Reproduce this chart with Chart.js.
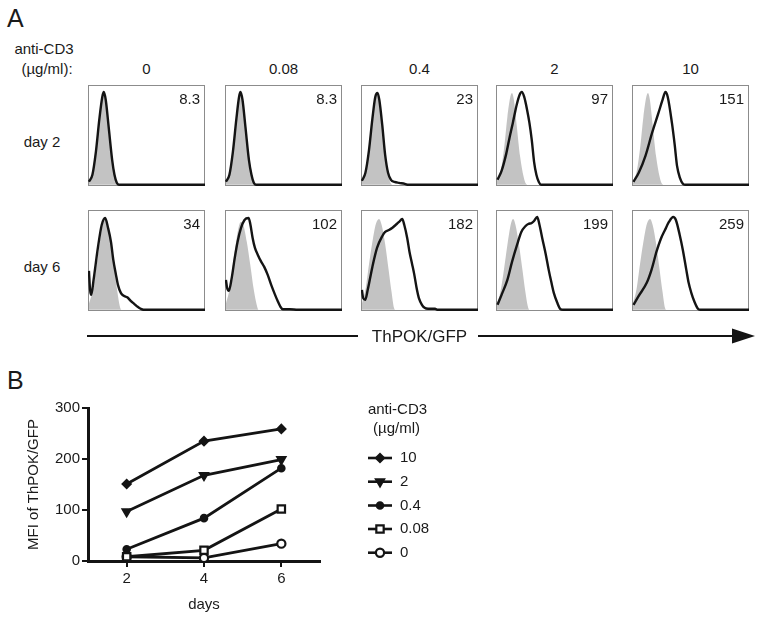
<!DOCTYPE html>
<html><head><meta charset="utf-8">
<script src="https://cdn.jsdelivr.net/npm/chart.js@4.4.1/dist/chart.umd.min.js"></script>
<style>
html,body{margin:0;padding:0;background:#fff;}
body{width:761px;height:619px;position:relative;overflow:hidden;font-family:"Liberation Sans",Arial,Helvetica,sans-serif;color:#1a1a1a;}
.t{position:absolute;white-space:nowrap;line-height:1;font-size:15px;}
.panel{position:absolute;width:117px;height:101px;box-sizing:border-box;border:1px solid #8c8c8c;}
.panel canvas{position:absolute;left:-1px;top:-1px;}
</style>
</head><body>
<script>
// ---------- DATA ----------
const concentrations = ['0', '0.08', '0.4', '2', '10'];
const dayLabels = ['day 2', 'day 6'];
const mfiDay2Labels = ['8.3', '8.3', '23', '97', '151'];
const mfiDay6Labels = ['34', '102', '182', '199', '259'];

// Histogram curves: [x % of axis, y % of panel height]
const grayDay2 = [[0,4],[3,12],[6,35],[9,68],[11.5,88],[13,92],[14.5,86],[17,60],[20,28],[23,8],[25,1],[27,0],[100,0]];
const grayDay6 = [[0,6],[3,18],[6,40],[9,65],[12,86],[14,91],[16,85],[19,65],[22,40],[24.5,18],[26.5,4],[28,0],[100,0]];
const grayDay6b = [[0,6],[3,20],[6,45],[9,70],[11,83],[12.7,88],[15,85],[18,68],[21,45],[24,20],[26.5,5],[28,0],[100,0]];
const grayDay6c = [[0,6],[3,20],[6,45],[9,68],[12,86],[14.8,91],[17,85],[20,66],[23,40],[25.5,18],[27.6,2],[29,0],[100,0]];

const d2c0 = [[0,3],[3,10],[6,33],[9,66],[11.5,88],[12.8,93],[14.5,85],[17,58],[20,25],[22,10],[24,2],[26,0],[100,0]];
const d2c008 = [[0,3],[3,10],[6,33],[9,66],[11.3,88],[12.5,93],[14.3,85],[16.8,58],[19.8,25],[22,10],[24,2],[26,0],[100,0]];
const d2c04 = [[0,4],[3,12],[6,34],[9,66],[11.5,88],[13.4,92],[15,85],[17.5,60],[20,30],[22.5,12],[25,5],[28,3],[32,2],[37,1],[40,0],[100,0]];
const d2c2 = [[0.5,5],[4,14],[8,31],[11,48],[13.7,62],[17,80],[19.5,90],[21.4,93],[23.5,88],[26,75],[28,62],[30,45],[32,23],[34,10],[36,3],[38,0],[100,0]];
const d2c10 = [[0.5,3],[5,12],[10.8,29],[16.5,52],[22,72],[25.5,85],[28,93],[30,88],[33.6,62],[36,40],[38,19],[40.5,7],[43,1],[45,0],[100,0]];

const d6c0 = [[0,39],[1,20],[2,15],[4,30],[7.7,62],[11,85],[14,92],[16.5,82],[19,68],[21,50],[23.3,35],[25,25],[27.5,17],[30,14],[33,12.5],[36,9],[39,6],[42,3],[44.6,1],[47,0],[100,0]];
const d6c008 = [[0,30],[1,22],[2.5,19],[5,32],[7.6,52],[10,68],[13,82],[16,90],[19.5,92],[21,86],[23,72],[25,62],[27.5,55],[30,49],[33,43],[36,35],[39,25],[42,16],[44.5,9],[47,3],[49,0.5],[55,0.5],[62,0],[100,0]];
const d6c04 = [[0,20],[1,12],[2.8,10],[5,20],[9,43],[13,62],[17.6,74],[20,78],[23.3,80],[26,82],[29,85],[32,88],[34.7,91],[36.5,85],[39,72],[41,58],[43.2,46],[45,36],[47.4,20],[49,12],[51.7,5],[54,2],[57,1],[63,1],[65,0],[100,0]];
const d6c2 = [[0.5,5],[4,15],[9,30],[13,48],[17.6,66],[21,78],[24.7,84],[27,86],[30,87],[32,89],[34.7,93],[36.5,86],[39,72],[42,56],[44.6,40],[47,27],[49,17],[52,7],[54.5,1],[57,0],[100,0]];
const d6c10 = [[0.5,5],[5,14],[11.9,27],[16,40],[20.5,59],[24,71],[27.6,80],[31,88],[34.7,93],[37,90],[40.3,75],[43,60],[46,40],[48,27],[50.3,17],[53,8],[56,1],[58,0],[100,0]];

const histRows = [
  {gray: [grayDay2, grayDay2, grayDay2, grayDay2, grayDay2], black: [d2c0, d2c008, d2c04, d2c2, d2c10]},
  {gray: [grayDay6, grayDay6b, grayDay6c, grayDay6, grayDay6c], black: [d6c0, d6c008, d6c04, d6c2, d6c10]}
];

// Panel B
const days = [2, 4, 6];
const xTickValues = [2, 4, 6];
const seriesLabels = ['10', '2', '0.4', '0.08', '0'];
const mfi10 = [151, 235, 259];
const mfi2 = [97, 168, 199];
const mfi04 = [23, 84, 182];
const mfi008 = [8.3, 21, 102];
const mfi0 = [8.3, 6, 34];

// ---------- LAYOUT ----------
const FONT = '"Liberation Sans", Arial, Helvetica, sans-serif';
const INK = '#1a1a1a';
function text(str, x, y, anchor, size) {
  const d = document.createElement('div');
  d.className = 't';
  d.textContent = str;
  d.style.left = x + 'px';
  d.style.top = y + 'px';
  if (size) d.style.fontSize = size + 'px';
  const tx = anchor === 'c' ? '-50%' : anchor === 'r' ? '-100%' : '0';
  d.style.transform = 'translate(' + tx + ',-50%)';
  document.body.appendChild(d);
}

text('A', 7, 18, 'l', 25);
text('anti-CD3', 44, 48, 'c');
text('(\u00b5g/ml):', 47, 68, 'c');
text('B', 7, 380, 'l', 25);

const panelLefts = [88, 225, 361, 496, 632];
const panelTops = [85, 210];
const PW = 117, PH = 101;

concentrations.forEach((c, i) => text(c, panelLefts[i] + PW / 2, 68, 'c'));
dayLabels.forEach((d, r) => text(d, 42, panelTops[r] + 56, 'c'));

histRows.forEach((row, r) => {
  const nums = r === 0 ? mfiDay2Labels : mfiDay6Labels;
  row.black.forEach((blk, i) => {
    const div = document.createElement('div');
    div.className = 'panel';
    div.style.left = panelLefts[i] + 'px';
    div.style.top = panelTops[r] + 'px';
    const cv = document.createElement('canvas');
    cv.width = PW; cv.height = PH;
    cv.style.width = PW + 'px'; cv.style.height = PH + 'px';
    div.appendChild(cv);
    document.body.appendChild(div);
    new Chart(cv, {
      type: 'line',
      data: {
        datasets: [
          {data: blk.map(p => ({x: p[0], y: p[1]})), borderColor: '#141414', borderWidth: 2.4, fill: false, pointRadius: 0, cubicInterpolationMode: 'monotone', order: 0},
          {data: row.gray[i].map(p => ({x: p[0], y: p[1]})), borderWidth: 0, borderColor: 'rgba(0,0,0,0)', backgroundColor: '#c3c3c3', fill: 'origin', pointRadius: 0, cubicInterpolationMode: 'monotone', order: 1}
        ]
      },
      options: {
        responsive: false, animation: false, events: [],
        layout: {padding: 0},
        plugins: {legend: {display: false}, tooltip: {enabled: false}},
        scales: {
          x: {type: 'linear', display: false, min: -0.8, max: 100},
          y: {type: 'linear', display: false, min: -1.2, max: 100}
        }
      }
    });
    text(nums[i], panelLefts[i] + PW - 5, panelTops[r] + 13, 'r');
  });
});

// axis arrow (decoration)
const svgNS = 'http://www.w3.org/2000/svg';
const svg = document.createElementNS(svgNS, 'svg');
svg.setAttribute('width', 761); svg.setAttribute('height', 20);
svg.style.position = 'absolute'; svg.style.left = '0px'; svg.style.top = '326px';
svg.innerHTML = '<line x1="87" y1="10" x2="358" y2="10" stroke="#141414" stroke-width="2"/>' +
  '<line x1="478" y1="10" x2="736" y2="10" stroke="#141414" stroke-width="2"/>' +
  '<polygon points="732,2.5 755,10 732,17.5" fill="#141414"/>';
document.body.appendChild(svg);
text('ThPOK/GFP', 419.5, 336, 'c', 17);

// ---------- PANEL B ----------
const bcv = document.createElement('canvas');
bcv.width = 480; bcv.height = 229;
bcv.style.position = 'absolute'; bcv.style.left = '0px'; bcv.style.top = '390px';
bcv.style.width = '480px'; bcv.style.height = '229px';
document.body.appendChild(bcv);

const seriesValues = [mfi10, mfi2, mfi04, mfi008, mfi0];
const markers = [
  {pointStyle: 'rectRot', radius: 4, rotation: 0, bg: '#141414'},
  {pointStyle: 'triangle', radius: 4.6, rotation: 180, bg: '#141414'},
  {pointStyle: 'circle', radius: 3.2, rotation: 0, bg: '#141414'},
  {pointStyle: 'rect', radius: 5.2, rotation: 0, bg: '#ffffff'},
  {pointStyle: 'circle', radius: 4.1, rotation: 0, bg: '#ffffff'}
];

const legendPlugin = {
  id: 'sideLegend',
  afterDraw(chart) {
    const ctx = chart.ctx;
    ctx.save();
    ctx.fillStyle = INK;
    ctx.font = '15px ' + FONT;
    ctx.textAlign = 'center';
    ctx.textBaseline = 'middle';
    ctx.fillText('anti-CD3', 397.5, 20);
    ctx.fillText('(\u00b5g/ml)', 396.5, 39);
    const ys = [68, 91.7, 115.5, 139, 162.7];
    chart.data.datasets.forEach((ds, i) => {
      const y = ys[i];
      ctx.strokeStyle = '#141414';
      ctx.lineWidth = 2.6;
      ctx.beginPath(); ctx.moveTo(368, y); ctx.lineTo(392, y); ctx.stroke();
      ctx.fillStyle = ds.pointBackgroundColor;
      ctx.strokeStyle = ds.pointBorderColor;
      ctx.lineWidth = ds.pointBorderWidth;
      Chart.helpers.drawPoint(ctx, {pointStyle: ds.pointStyle, radius: ds.pointRadius, rotation: ds.pointRotation, borderWidth: ds.pointBorderWidth}, 380, y);
      ctx.fillStyle = INK;
      ctx.textAlign = 'left';
      ctx.fillText(ds.label, 400, y);
    });
    ctx.restore();
  }
};

const axisCommon = {
  grid: {display: true, drawOnChartArea: false, drawTicks: true, tickLength: 6, color: '#141414', lineWidth: 2},
  border: {display: true, color: '#141414', width: 3}
};

new Chart(bcv, {
  type: 'line',
  data: {
    datasets: seriesLabels.map((lab, i) => ({
      label: lab,
      data: days.map((d, j) => ({x: d, y: seriesValues[i][j]})),
      borderColor: '#141414', borderWidth: 2.8, tension: 0, fill: false,
      pointStyle: markers[i].pointStyle, pointRadius: markers[i].radius, pointRotation: markers[i].rotation,
      pointBackgroundColor: markers[i].bg, pointBorderColor: '#141414', pointBorderWidth: 2.2,
      clip: false
    }))
  },
  options: {
    responsive: false, animation: false, events: [],
    layout: {padding: {left: 0, top: 18, right: 160, bottom: 0}},
    plugins: {legend: {display: false}, tooltip: {enabled: false}},
    scales: {
      x: Object.assign({}, axisCommon, {
        type: 'linear', min: 1, max: 7,
        afterBuildTicks: s => { s.ticks = xTickValues.map(v => ({value: v})); },
        afterFit: s => { s.height = 58; },
        ticks: {color: INK, font: {size: 15, family: FONT}, padding: 3},
        title: {display: true, text: 'days', color: INK, font: {size: 15, family: FONT}, padding: {top: 0, bottom: 5}}
      }),
      y: Object.assign({}, axisCommon, {
        type: 'linear', min: 0, max: 300,
        afterFit: s => { s.width = 88; },
        ticks: {stepSize: 100, color: INK, font: {size: 15, family: FONT}, padding: 2},
        title: {display: true, text: 'MFI of ThPOK/GFP', color: INK, font: {size: 15, family: FONT}, padding: {top: 25, bottom: 0}}
      })
    }
  },
  plugins: [legendPlugin]
});
</script>
</body></html>
